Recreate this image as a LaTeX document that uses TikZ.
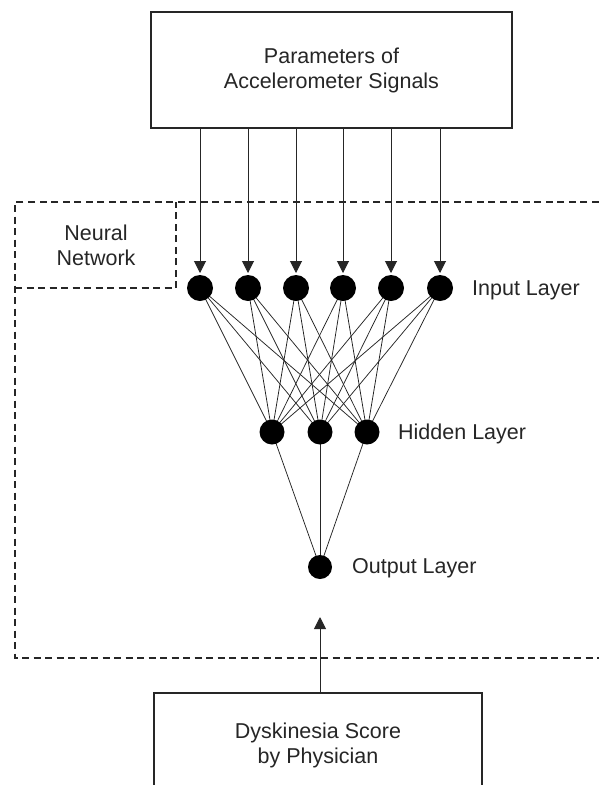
\documentclass[tikz,border=0pt]{standalone}
\usepackage{fontspec}
\setmainfont{Liberation Sans}
\usetikzlibrary{arrows.meta}
\definecolor{ink}{HTML}{262626}
\pgfdeclarelayer{bg}
\pgfsetlayers{bg,main}
\begin{document}
\begin{tikzpicture}[x=1pt,y=-1pt,
  txt/.style={text=ink,inner sep=0pt,align=center,font=\fontsize{21.5}{25}\selectfont},
  boxnode/.style={txt,draw=ink,line width=1.1pt,rectangle},
  lbl/.style={txt,anchor=west},
  neuron/.style={circle,fill=black,inner sep=0pt,minimum size=25pt},
  link/.style={draw=ink,line width=0.75pt},
  feed/.style={draw=ink,line width=1pt,-{Triangle[width=12pt,length=12pt]}},
  dashline/.style={draw=ink,line width=1.1pt,dash pattern=on 7pt off 4.5pt}]
\useasboundingbox (0,0) rectangle (598,785);
% dashed regions
\draw[dashline] (610,202) -- (15,202) -- (15,658) -- (610,658);
\draw[dashline] (15,288) -- (176,288) -- (176,202);
\node[txt] (nn) at (96,245) {Neural\\Network};
% boxes
\node[boxnode,minimum width=361pt,minimum height=116pt] (top) at (331.5,70) {Parameters of\\Accelerometer Signals};
\node[boxnode,minimum width=328pt,minimum height=104pt] (bot) at (318,745) {Dyskinesia Score\\by Physician};
% neurons
\foreach \i/\x in {1/200,2/248,3/296,4/343,5/391,6/440}
  \node[neuron,minimum size=26pt] (i\i) at (\x,288) {};
\foreach \j/\x in {1/272,2/320,3/367}
  \node[neuron] (h\j) at (\x,432) {};
\node[neuron,minimum size=24pt] (o) at (320,567) {};
% links
\begin{pgfonlayer}{bg}
\fill[white] (0,0) rectangle (598,785);
\foreach \i in {1,...,6}
  \foreach \j in {1,2,3}
    \draw[link] (i\i.center) -- (h\j.center);
\foreach \j in {1,2,3}
  \draw[link] (h\j.center) -- (o.center);
\end{pgfonlayer}
% feeds
\foreach \i in {1,...,6}
  \draw[feed,shorten >=15pt] (top.south -| i\i) -- (i\i.center);
\draw[feed,shorten >=50pt] (bot.north -| o) -- (o.center);
% labels
\node[lbl] (li) at (472,290) {Input Layer};
\node[lbl] (lh) at (398,434) {Hidden Layer};
\node[lbl] (lo) at (352,568) {Output Layer};
\end{tikzpicture}
\end{document}
